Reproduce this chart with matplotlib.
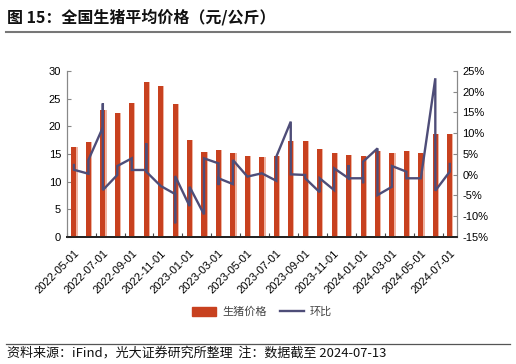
import matplotlib
matplotlib.use("Agg")
import matplotlib.pyplot as plt
from matplotlib.lines import Line2D
from matplotlib.patches import Patch

plt.rcParams['font.family'] = ['Liberation Sans', 'Noto Sans CJK SC', 'DejaVu Sans']
CJK = ['Noto Sans CJK SC', 'DejaVu Sans']

months = ['2022-05-01', '2022-06-01', '2022-07-01', '2022-08-01', '2022-09-01', '2022-10-01',
          '2022-11-01', '2022-12-01', '2023-01-01', '2023-02-01', '2023-03-01', '2023-04-01',
          '2023-05-01', '2023-06-01', '2023-07-01', '2023-08-01', '2023-09-01', '2023-10-01',
          '2023-11-01', '2023-12-01', '2024-01-01', '2024-02-01', '2024-03-01', '2024-04-01',
          '2024-05-01', '2024-06-01', '2024-07-01']

price = [16.2, 17.15, 22.95, 22.4, 24.3, 28.05, 27.2, 23.95, 17.5, 15.4, 15.8, 15.1,
         14.6, 14.4, 14.6, 17.35, 17.35, 15.9, 15.1, 14.9, 14.6, 15.6, 15.25, 15.5,
         15.25, 18.7, 18.65]

# month-on-month change (%): several readings fall on the same month position
mom = [[2.35, 1.2], [0.25, 3.55], [11.4, 17.2, -3.7], [-0.05, 2.1], [3.95, 1.15],
       [1.15, 7.6, 0.75], [-2.7], [-4.65, -11.7, -0.3], [-7.55, -2.9], [-9.55, 3.95],
       [2.75, -2.5, -0.85], [-2.25, 3.55], [-0.45], [0.35], [-1.45, 4.35],
       [12.8, 0.1], [-0.05, -0.85], [-4.2, -0.85], [-3.7, 1.55], [-0.85, 2.35, -0.85],
       [-0.85, -2.05, 3.15], [6.35, -4.9], [-2.9, 2.1], [0.75, -0.85], [-0.85],
       [23.25, -3.85], [0.75, 2.6]]

left_ticks = [0, 5, 10, 15, 20, 25, 30]
right_ticks = [-15, -10, -5, 0, 5, 10, 15, 20, 25]

W, H = 516, 364
fig = plt.figure(figsize=(W / 100, H / 100), dpi=100)
L, R, T, B = 66.7, 457, 71, 237
ax = fig.add_axes([L / W, 1 - B / H, (R - L) / W, (B - T) / H])

bar_c = '#C8411F'
light_c = '#EFB3A0'
line_c = '#4E4D78'

x = list(range(len(months)))
ax.bar([i + 0.175 for i in x], price, width=0.08, color=light_c, align='edge', zorder=2)
ax.bar(x, price, width=0.35, color=bar_c, zorder=3)
ax.set_xlim(-0.5, len(months) - 0.5)
ax.set_ylim(0, 30)
ax.set_yticks(left_ticks)

ax2 = ax.twinx()
lx, ly = [], []
for i, vals in enumerate(mom):
    for v in vals:
        lx.append(i)
        ly.append(v)
ax2.plot(lx, ly, color=line_c, lw=1.7, zorder=4, solid_joinstyle='miter')
ax2.set_ylim(-15, 25)
ax2.set_yticks(right_ticks)
ax2.set_yticklabels([f'{t}%' for t in right_ticks])

# x ticks: marks at category boundaries, labels every two months
ax.set_xticks([i - 0.5 for i in range(0, len(months) + 1, 2)])
ax.set_xticklabels([])
ax.set_xticks(x[::2], minor=True)
ax.set_xticklabels(months[::2], minor=True, rotation=45, ha='right', va='top',
                   rotation_mode='anchor', fontsize=8)
ax.tick_params(axis='x', which='minor', length=0, pad=8)
ax.tick_params(axis='x', which='major', direction='in', length=3, color='#444')
ax.tick_params(axis='y', direction='in', length=3, labelsize=8, color='#888', pad=4)
ax2.tick_params(axis='y', direction='in', length=3, labelsize=8, color='#888', pad=4)

for a in (ax, ax2):
    a.spines['top'].set_visible(False)
    a.spines['left'].set_color('#888')
    a.spines['right'].set_color('#888')
    a.spines['bottom'].set_color('#222')
    a.spines['bottom'].set_linewidth(1.3)

# title and rules
fig.text(7 / W, 1 - 17 / H, '图 15：全国生猪平均价格（元/公斤）', fontsize=11.5,
         fontweight='bold', family=CJK, va='center', ha='left', color='#111')
fig.add_artist(Line2D([6 / W, 510 / W], [1 - 31.5 / H, 1 - 31.5 / H], color='#777', lw=1.5))
fig.add_artist(Line2D([6 / W, 510 / W], [1 - 343.5 / H, 1 - 343.5 / H], color='#555', lw=0.9))
fig.text(7 / W, 1 - 353 / H, '资料来源：iFind，光大证券研究所整理  注：数据截至 2024-07-13',
         fontsize=9.4, family=CJK, va='center', ha='left', color='#111')

handles = [Patch(color=bar_c), Line2D([0], [0], color=line_c, lw=1.7)]
leg = fig.legend(handles, ['生猪价格', '环比'], loc='center', ncol=2,
                 bbox_to_anchor=(262 / W, 1 - 312 / H), frameon=False,
                 prop={'family': CJK, 'size': 8}, handlelength=2.2, handleheight=0.8,
                 columnspacing=1.2, handletextpad=0.5)
for t in leg.get_texts():
    t.set_color('#444')

fig.savefig('out.png', dpi=100)
